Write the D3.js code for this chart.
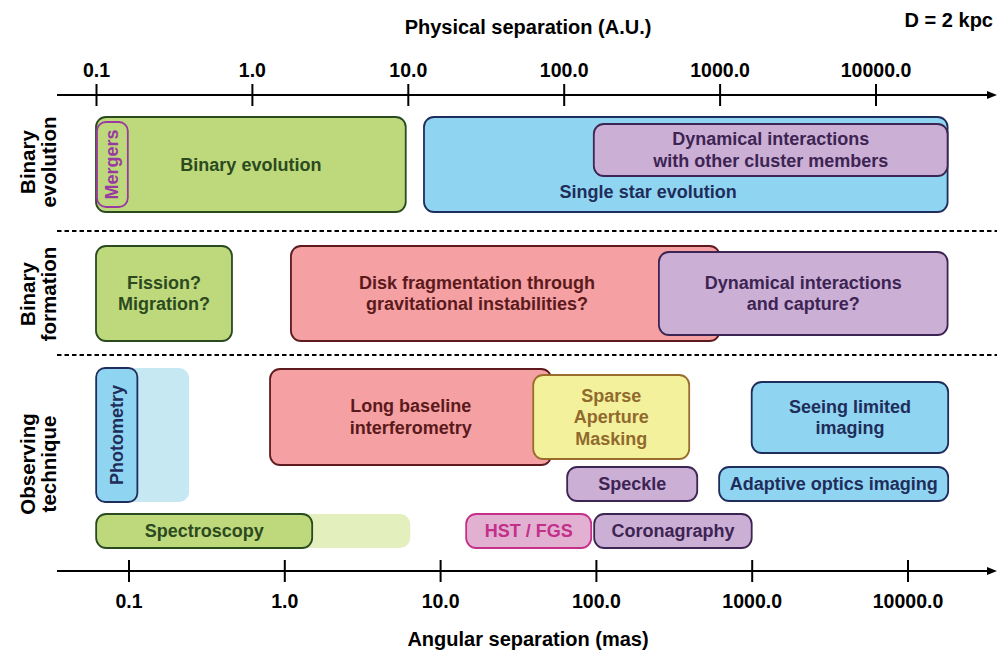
<!DOCTYPE html>
<html><head><meta charset="utf-8">
<script src="https://cdn.jsdelivr.net/npm/d3@7"></script>
<style>
html,body{margin:0;padding:0;background:#fff;}
svg text{font-family:"Liberation Sans",Arial,Helvetica,sans-serif;font-weight:bold;}
</style></head>
<body><svg id="chart" width="1001" height="653"></svg>
<script>
// ---- data ----
const auTicks = [0.1, 1, 10, 100, 1000, 10000];
const auTickLabels = ["0.1", "1.0", "10.0", "100.0", "1000.0", "10000.0"];
const masTicks = [0.1, 1, 10, 100, 1000, 10000];
const masTickLabels = ["0.1", "1.0", "10.0", "100.0", "1000.0", "10000.0"];

// box names, ranges (AU for physical rows, mas for observing row)
const evolutionNames = ["Binary evolution", "Mergers", "Single star evolution", "Dynamical interactions\nwith other cluster members"];
const evolutionMinAU = [0.1, 0.1015, 12.7, 156];
const evolutionMaxAU = [9.7, 0.16, 29000, 29000];

const formationNames = ["Fission?\nMigration?", "Disk fragmentation through\ngravitational instabilities?", "Dynamical interactions\nand capture?"];
const formationMinAU = [0.1, 1.78, 408];
const formationMaxAU = [0.745, 1000, 29000];

const techniqueNames = ["Photometry (extended)", "Photometry", "Long baseline\ninterferometry", "Sparse\nAperture\nMasking", "Seeing limited\nimaging", "Speckle", "Adaptive optics imaging", "Spectroscopy (extended)", "Spectroscopy", "HST / FGS", "Coronagraphy"];
const techniqueMinMas = [0.062, 0.062, 0.81, 39.6, 1000, 65.4, 618, 0.062, 0.062, 14.7, 97.5];
const techniqueMaxMas = [0.245, 0.114, 51.7, 397, 18240, 447, 18240, 6.43, 1.51, 93.3, 1000];

const rowLabels = [["Binary", "evolution"], ["Binary", "formation"], ["Observing", "technique"]];

// ---- styles / layout ----
const C = {
  green: {fill: "#bdd97c", stroke: "#2a4a20", text: "#2c4a1e"},
  blue: {fill: "#8fd5f2", stroke: "#1e2d5c", text: "#1f2d5a"},
  purple: {fill: "#ccafd5", stroke: "#3c2453", text: "#3c2453"},
  red: {fill: "#f5a0a2", stroke: "#5e1a1d", text: "#5a1a1c"},
  yellow: {fill: "#f3f19c", stroke: "#9a6c2c", text: "#906a2c"},
  pink: {fill: "#e2b1d2", stroke: "#c4308a", text: "#c2308a"},
  merg: {fill: "none", stroke: "#9a3aa0", text: "#9a3aa0"},
  lblue: {fill: "#c6e8f3", stroke: "none", text: "none"},
  lgreen: {fill: "#e4efbe", stroke: "none", text: "none"}
};
const evolutionLayout = [
  {y0: 117, y1: 212, s: "green"},
  {y0: 122, y1: 207, s: "merg", rot: true},
  {y0: 117, y1: 212, s: "blue", lx: 348, ly: 192},
  {y0: 124, y1: 176, s: "purple"}
];
const formationLayout = [
  {y0: 246, y1: 341, s: "green"},
  {y0: 246, y1: 341, s: "red", lx: 27.8},
  {y0: 252, y1: 335, s: "purple"}
];
const techniqueLayout = [
  {y0: 368, y1: 502, s: "lblue", nolabel: true},
  {y0: 368, y1: 502, s: "blue", rot: true},
  {y0: 369, y1: 465, s: "red"},
  {y0: 375, y1: 459, s: "yellow"},
  {y0: 382, y1: 453, s: "blue"},
  {y0: 467, y1: 501, s: "purple"},
  {y0: 467, y1: 501, s: "blue"},
  {y0: 514, y1: 548, s: "lgreen", nolabel: true},
  {y0: 514, y1: 548, s: "green"},
  {y0: 514, y1: 548, s: "pink"},
  {y0: 514, y1: 548, s: "purple"}
];

const svg = d3.select("#chart");
const xAU = d3.scaleLog().domain([0.1, 10000]).range([96, 875.5]);
const xMas = d3.scaleLog().domain([0.1, 10000]).range([128.5, 907.5]);

svg.append("defs").append("marker").attr("id", "arr").attr("viewBox", "0 0 10 10")
  .attr("refX", 0).attr("refY", 5).attr("markerWidth", 10).attr("markerHeight", 10)
  .attr("markerUnits", "userSpaceOnUse").attr("orient", "auto")
  .append("path").attr("d", "M0,1 L10,5 L0,9 Z").attr("fill", "#000");

function drawAxis(scale, y, ticks, labels, top) {
  const ax = (top ? d3.axisTop(scale) : d3.axisBottom(scale))
    .tickValues(ticks).tickFormat((d, i) => labels[i]).tickSizeOuter(0).tickSizeInner(11).tickPadding(0);
  const g = svg.append("g").attr("transform", `translate(0,${y})`).call(ax);
  g.select(".domain").remove();
  g.selectAll(".tick line").attr("y1", -11).attr("y2", 11).attr("stroke", "#000").attr("stroke-width", 2);
  g.selectAll(".tick text").attr("font-size", 19.5).attr("fill", "#000")
    .attr("font-family", '"Liberation Sans",Arial,sans-serif').attr("font-weight", "bold")
    .attr("dy", null).attr("dominant-baseline", "central").attr("y", top ? -25 : 30);
  svg.append("line").attr("x1", 57).attr("x2", 987).attr("y1", y).attr("y2", y)
    .attr("stroke", "#000").attr("stroke-width", 2).attr("marker-end", "url(#arr)");
}
drawAxis(xAU, 95, auTicks, auTickLabels, true);
drawAxis(xMas, 571, masTicks, masTickLabels, false);

svg.append("text").attr("x", 528).attr("y", 27).attr("text-anchor", "middle").attr("dominant-baseline", "central")
  .attr("font-size", 20).text("Physical separation (A.U.)");
svg.append("text").attr("x", 993).attr("y", 20).attr("text-anchor", "end").attr("dominant-baseline", "central")
  .attr("font-size", 20).text("D = 2 kpc");
svg.append("text").attr("x", 528).attr("y", 639).attr("text-anchor", "middle").attr("dominant-baseline", "central")
  .attr("font-size", 20).text("Angular separation (mas)");

[231, 355].forEach(y => svg.append("line").attr("x1", 57).attr("x2", 997).attr("y1", y).attr("y2", y)
  .attr("stroke", "#000").attr("stroke-width", 2).attr("stroke-dasharray", "4.5,3"));

const rowCenters = [162, 294, 464];
rowLabels.forEach((lines, i) => {
  const t = svg.append("text").attr("transform", `translate(37.5,${rowCenters[i]}) rotate(-90)`)
    .attr("text-anchor", "middle").attr("font-size", 20.5).attr("fill", "#000");
  lines.forEach((l, j) => t.append("tspan").attr("x", 0).attr("y", (j - 0.5) * 21).attr("dominant-baseline", "central").text(l));
});

function drawBoxes(names, mins, maxs, layout, scale) {
  names.forEach((name, i) => {
    const L = layout[i], st = C[L.s];
    const x0 = scale(mins[i]), x1 = scale(maxs[i]);
    svg.append("rect").attr("x", x0).attr("y", L.y0).attr("width", x1 - x0).attr("height", L.y1 - L.y0)
      .attr("rx", L.rot ? 9 : 10).attr("fill", st.fill).attr("stroke", st.stroke).attr("stroke-width", 1.8);
    if (L.nolabel) return;
    const cx = L.lx !== undefined ? scale(L.lx) : (x0 + x1) / 2;
    const cy = L.ly !== undefined ? L.ly : (L.y0 + L.y1) / 2;
    const lines = name.split("\n");
    const t = svg.append("text").attr("text-anchor", "middle").attr("font-size", 18).attr("fill", st.text)
      .attr("transform", L.rot ? `translate(${cx},${cy}) rotate(-90)` : `translate(${cx},${cy})`);
    const lh = 21.5;
    lines.forEach((l, j) => t.append("tspan").attr("x", 0).attr("y", (j - (lines.length - 1) / 2) * lh)
      .attr("dominant-baseline", "central").text(l));
  });
}
drawBoxes(evolutionNames, evolutionMinAU, evolutionMaxAU, evolutionLayout, xAU);
drawBoxes(formationNames, formationMinAU, formationMaxAU, formationLayout, xAU);
drawBoxes(techniqueNames, techniqueMinMas, techniqueMaxMas, techniqueLayout, xMas);
</script></body></html>
